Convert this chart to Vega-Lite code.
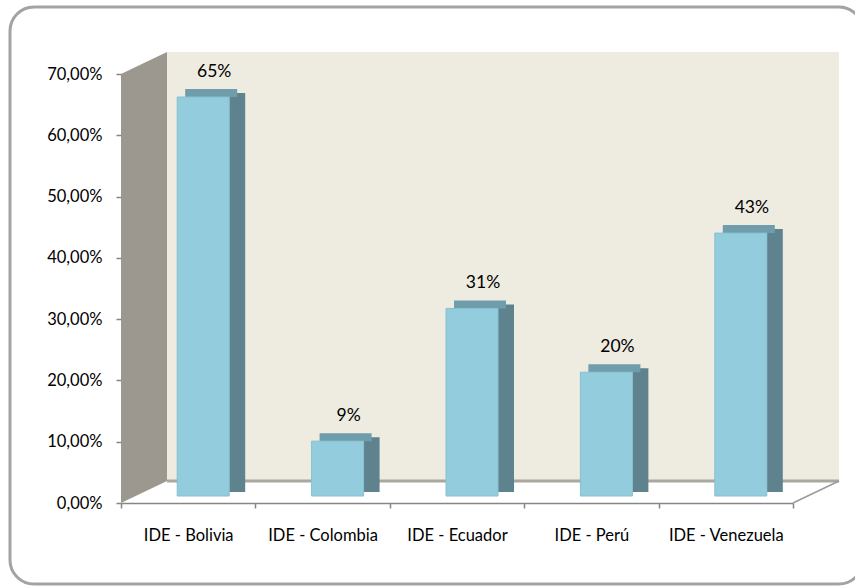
{
  "$schema": "https://vega.github.io/schema/vega-lite/v6.json",
  "width": 718,
  "height": 451,
  "autosize": {"type": "none"},
  "padding": {"left": 121, "top": 52, "right": 16, "bottom": 83},
  "background": "white",
  "config": {
    "view": {"stroke": null},
    "font": "Lato"
  },
  "datasets": {
    "bars": [
      {"pais": "IDE - Bolivia", "share": 0.651},
      {"pais": "IDE - Colombia", "share": 0.0895},
      {"pais": "IDE - Ecuador", "share": 0.306},
      {"pais": "IDE - Perú", "share": 0.202},
      {"pais": "IDE - Venezuela", "share": 0.429}
    ],
    "frame": [
      {"d0": -0.8259, "d1": 5.52, "lo": -0.1322, "hi": 0.8093}
    ],
    "wallLeft": [
      {"d": 0, "lo": 0, "hi": 0.7},
      {"d": 0.3423, "lo": 0.0359, "hi": 0.7359}
    ],
    "wallBack": [
      {"d0": 0.3423, "d1": 5.3423, "lo": 0.0359, "hi": 0.7359}
    ],
    "edges": [
      {"kind": "back", "d0": 0.3423, "d1": 5.3423, "y0": 0.0359, "y1": 0.0359},
      {"kind": "right", "d0": 5, "d1": 5.3423, "y0": 0, "y1": 0.0359}
    ]
  },
  "resolve": {"scale": {"x": "independent"}, "axis": {"x": "independent", "y": "independent"}},
  "layer": [
    {
      "data": {"name": "frame"},
      "mark": {"type": "rect", "fill": null, "fillOpacity": 0, "stroke": "#a3a3a3", "strokeWidth": 3, "cornerRadius": 24},
      "encoding": {
        "x": {"field": "d0", "type": "quantitative", "scale": {"domain": [0, 5], "range": [0, 672], "nice": false, "zero": false}, "axis": null},
        "x2": {"field": "d1"},
        "y": {"field": "lo", "type": "quantitative", "scale": {"domain": [0, 0.7359], "nice": false, "zero": false}, "axis": null},
        "y2": {"field": "hi"}
      }
    },
    {
      "data": {"name": "wallLeft"},
      "mark": {"type": "area", "color": "#9c988f"},
      "encoding": {
        "x": {"field": "d", "type": "quantitative", "scale": {"domain": [0, 5], "range": [0, 672], "nice": false, "zero": false}, "axis": null},
        "y": {"field": "lo", "type": "quantitative", "scale": {"domain": [0, 0.7359], "nice": false, "zero": false}, "axis": null},
        "y2": {"field": "hi"}
      }
    },
    {
      "data": {"name": "wallBack"},
      "mark": {"type": "rect", "color": "#eeebe0"},
      "encoding": {
        "x": {"field": "d0", "type": "quantitative", "scale": {"domain": [0, 5], "range": [0, 672], "nice": false, "zero": false}, "axis": null},
        "x2": {"field": "d1"},
        "y": {"field": "lo", "type": "quantitative", "scale": {"domain": [0, 0.7359], "nice": false, "zero": false}, "axis": null},
        "y2": {"field": "hi"}
      }
    },
    {
      "data": {"name": "edges"},
      "transform": [{"filter": "datum.kind === 'back'"}],
      "mark": {"type": "rule", "color": "#aaa79e", "strokeWidth": 3},
      "encoding": {
        "x": {"field": "d0", "type": "quantitative", "scale": {"domain": [0, 5], "range": [0, 672], "nice": false, "zero": false}, "axis": null},
        "x2": {"field": "d1"},
        "y": {"field": "y0", "type": "quantitative", "scale": {"domain": [0, 0.7359], "nice": false, "zero": false}, "axis": null},
        "y2": {"field": "y1"}
      }
    },
    {
      "data": {"name": "edges"},
      "transform": [{"filter": "datum.kind === 'right'"}],
      "mark": {"type": "rule", "color": "#9a9a9a", "strokeWidth": 1.5},
      "encoding": {
        "x": {"field": "d0", "type": "quantitative", "scale": {"domain": [0, 5], "range": [0, 672], "nice": false, "zero": false}, "axis": null},
        "x2": {"field": "d1"},
        "y": {"field": "y0", "type": "quantitative", "scale": {"domain": [0, 0.7359], "nice": false, "zero": false}, "axis": null},
        "y2": {"field": "y1"}
      }
    },
    {
      "data": {"name": "bars"},
      "mark": {"type": "bar", "width": 16, "xOffset": 49, "yOffset": -11, "y2Offset": -11, "color": "#5e838e"},
      "encoding": {
        "x": {"field": "pais", "type": "nominal", "sort": null, "scale": {"range": [0, 672], "paddingInner": 0, "paddingOuter": 0}, "axis": null},
        "y": {"field": "share", "type": "quantitative", "scale": {"domain": [0, 0.7359], "nice": false, "zero": false}, "axis": null},
        "y2": {"datum": 0}
      }
    },
    {
      "data": {"name": "bars"},
      "mark": {"type": "bar", "width": 52, "xOffset": 23, "yOffset": -15, "y2Offset": -7, "color": "#6f9dab"},
      "encoding": {
        "x": {"field": "pais", "type": "nominal", "sort": null, "scale": {"range": [0, 672], "paddingInner": 0, "paddingOuter": 0}, "axis": null},
        "y": {"field": "share", "type": "quantitative", "scale": {"domain": [0, 0.7359], "nice": false, "zero": false}, "axis": null},
        "y2": {"field": "share"}
      }
    },
    {
      "data": {"name": "bars"},
      "mark": {"type": "bar", "width": 52, "xOffset": 15, "yOffset": -7, "y2Offset": -7, "color": "#93cddd", "stroke": "#86c0d0", "strokeWidth": 1},
      "encoding": {
        "x": {
          "field": "pais", "type": "nominal", "sort": null,
          "scale": {"range": [0, 672], "paddingInner": 0, "paddingOuter": 0},
          "axis": {
            "orient": "bottom",
            "tickBand": "extent",
            "labelAngle": 0,
            "labelFont": "Lato",
            "labelFontSize": 16.5,
            "labelColor": "#000000",
            "domainColor": "#868686",
            "domainWidth": 1.5,
            "tickColor": "#868686",
            "tickWidth": 1.5,
            "tickSize": 5,
            "labelPadding": 19,
            "grid": false,
            "title": null
          }
        },
        "y": {
          "field": "share", "type": "quantitative",
          "scale": {"domain": [0, 0.7359], "nice": false, "zero": false},
          "axis": {
            "orient": "left",
            "values": [0, 0.1, 0.2, 0.3, 0.4, 0.5, 0.6, 0.7],
            "labelExpr": "replace(format(datum.value*100, '.2f'), '.', ',') + '%'",
            "labelFont": "Lato",
            "labelFontSize": 16.5,
            "labelColor": "#000000",
            "domain": false,
            "grid": false,
            "tickSize": 5,
            "tickColor": "#868686",
            "tickWidth": 1.5,
            "labelPadding": 14,
            "title": null
          }
        },
        "y2": {"datum": 0}
      }
    },
    {
      "data": {"name": "bars"},
      "mark": {"type": "text", "dx": 26, "dy": -32, "font": "Lato", "fontSize": 17.5, "color": "#000000", "baseline": "middle"},
      "encoding": {
        "x": {"field": "pais", "type": "nominal", "sort": null, "scale": {"range": [0, 672], "paddingInner": 0, "paddingOuter": 0}, "axis": null},
        "y": {"field": "share", "type": "quantitative", "scale": {"domain": [0, 0.7359], "nice": false, "zero": false}, "axis": null},
        "text": {"field": "share", "type": "quantitative", "format": ".0%"}
      }
    }
  ]
}
